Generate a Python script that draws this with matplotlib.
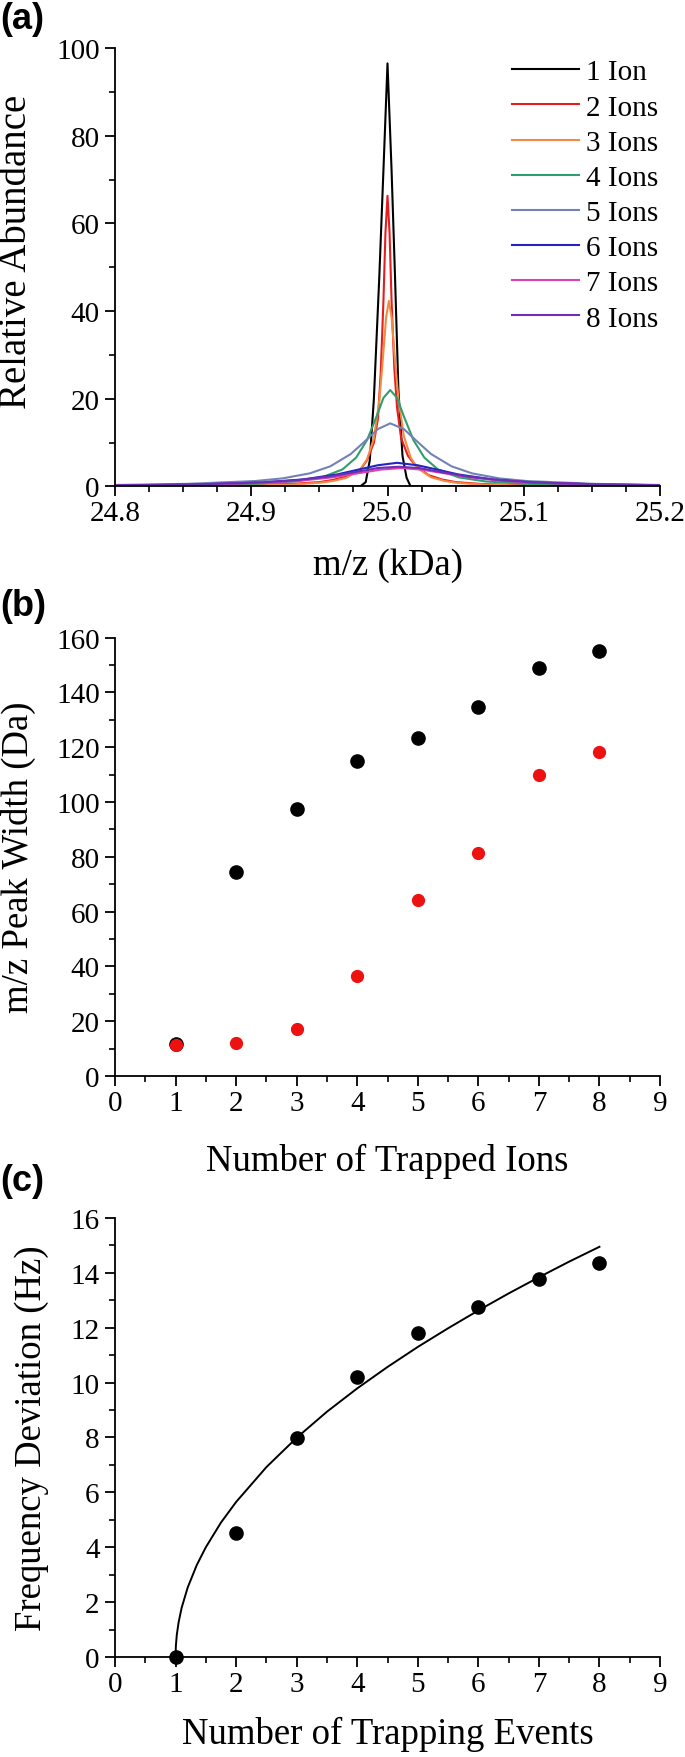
import matplotlib
matplotlib.use('Agg')
import matplotlib.pyplot as plt
from matplotlib.ticker import MultipleLocator

plt.rcParams['font.family'] = ['Liberation Serif', 'DejaVu Serif']

# ---- panel (a): peak profiles (m/z in kDa, abundance) ----
ion_labels = ['1 Ion', '2 Ions', '3 Ions', '4 Ions', '5 Ions', '6 Ions', '7 Ions', '8 Ions']
ion_colors = ['#000000', '#e81c1c', '#f08a44', '#2f9e6e', '#7282b6', '#2424c4', '#e040b4', '#6a30b4']

mz_1 = [24.80, 24.98, 24.984, 24.987, 24.990, 24.994, 24.997, 25.000, 25.003, 25.0055, 25.008, 25.011, 25.014, 25.017, 25.20]
ab_1 = [0, 0, 1, 6, 20, 48, 72, 96.5, 72, 48, 22, 7, 2, 0, 0]

mz_2 = [24.80, 24.85, 24.90, 24.93, 24.95, 24.96, 24.97, 24.98, 24.985, 24.99, 24.993, 24.995, 24.997, 24.9985, 25.000,
        25.0015, 25.003, 25.005, 25.007, 25.01, 25.015, 25.02, 25.03, 25.04, 25.05, 25.07, 25.10, 25.15, 25.20]
ab_2 = [0.1, 0.2, 0.35, 0.6, 1.0, 1.5, 2.3, 3.8, 6.0, 10.0, 15.5, 25.8, 42.2, 57.9, 66.3,
        57.9, 42.2, 27.0, 18.0, 11.0, 7.0, 5.0, 2.6, 1.6, 1.0, 0.55, 0.3, 0.15, 0.1]

mz_3 = [24.80, 24.85, 24.90, 24.93, 24.95, 24.96, 24.97, 24.98, 24.985, 24.99, 24.994, 24.997, 24.999, 25.001,
        25.003, 25.005, 25.008, 25.012, 25.017, 25.022, 25.032, 25.042, 25.052, 25.072, 25.10, 25.15, 25.20]
ab_3 = [0.06, 0.12, 0.25, 0.45, 0.85, 1.25, 2.0, 3.9, 6.2, 11.0, 19.6, 30.7, 38.6, 42.3,
        38.6, 30.7, 20.0, 11.5, 6.6, 4.2, 2.1, 1.25, 0.8, 0.42, 0.22, 0.1, 0.06]

mz_4 = [24.80, 24.852, 24.902, 24.932, 24.952, 24.967, 24.977, 24.985, 24.992, 24.997, 25.002,
        25.007, 25.012, 25.019, 25.027, 25.037, 25.052, 25.072, 25.102, 25.152, 25.20]
ab_4 = [0.16, 0.28, 0.6, 1.15, 2.1, 3.9, 6.6, 10.6, 16.0, 20.2, 22.0,
        20.2, 16.0, 10.6, 6.6, 3.9, 2.1, 1.15, 0.6, 0.28, 0.16]

mz_5 = [24.80, 24.853, 24.903, 24.923, 24.943, 24.958, 24.973, 24.983, 24.993, 25.002,
        25.012, 25.022, 25.032, 25.047, 25.062, 25.082, 25.102, 25.152, 25.20]
ab_5 = [0.35, 0.6, 1.25, 1.85, 3.0, 4.6, 7.4, 10.2, 13.1, 14.4,
        13.1, 10.2, 7.4, 4.6, 3.0, 1.85, 1.25, 0.6, 0.35]

mz_6 = [24.80, 24.858, 24.908, 24.938, 24.963, 24.978, 24.993, 25.007, 25.022, 25.037, 25.052, 25.077, 25.107, 25.157, 25.20]
ab_6 = [0.26, 0.45, 0.93, 1.61, 2.75, 3.81, 4.85, 5.4, 4.85, 3.81, 2.75, 1.61, 0.93, 0.45, 0.29]

mz_7 = [24.80, 24.86, 24.91, 24.935, 24.96, 24.98, 24.995, 25.01, 25.025, 25.04, 25.06, 25.085, 25.11, 25.16, 25.20]
ab_7 = [0.23, 0.42, 0.84, 1.29, 2.1, 3.09, 3.85, 4.2, 3.85, 3.09, 2.1, 1.29, 0.84, 0.42, 0.28]

mz_8 = [24.80, 24.858, 24.908, 24.933, 24.958, 24.978, 24.993, 25.008, 25.023, 25.038, 25.058, 25.083, 25.108, 25.158, 25.20]
ab_8 = [0.26, 0.46, 0.92, 1.42, 2.3, 3.38, 4.22, 4.5, 4.22, 3.38, 2.3, 1.42, 0.92, 0.46, 0.3]

mz_all = [mz_1, mz_2, mz_3, mz_4, mz_5, mz_6, mz_7, mz_8]
ab_all = [ab_1, ab_2, ab_3, ab_4, ab_5, ab_6, ab_7, ab_8]

# ---- panel (b): peak width vs number of trapped ions ----
n_ions = [1, 2, 3, 4, 5, 6, 7, 8]
width_black = [11.7, 74.5, 97.5, 115.1, 123.2, 134.5, 149.0, 155.0]
width_red = [11.4, 12.0, 17.3, 36.5, 64.2, 81.5, 109.9, 118.1]

# ---- panel (c): frequency deviation vs trapping events ----
n_events = [1, 2, 3, 4, 5, 6, 7, 8]
freq_dev = [0.0, 4.52, 7.99, 10.2, 11.81, 12.77, 13.79, 14.37]
fit_x = [1.0, 1.005, 1.02, 1.05, 1.1, 1.2, 1.35, 1.5, 1.75, 2.0, 2.5, 3.0, 3.5, 4.0, 4.5, 5.0, 5.5, 6.0, 6.5, 7.0, 7.5, 8.0]
fit_y = [0.0, 0.4, 0.8, 1.26, 1.79, 2.53, 3.35, 4.0, 4.9, 5.65, 6.92, 7.99, 8.94, 9.79, 10.57, 11.3, 11.98, 12.63, 13.25, 13.84, 14.41, 14.95]

tick_fs = 21
label_fs = 26.5

fig = plt.figure(figsize=(6.85, 17.58), dpi=100)
ax_a = fig.add_axes([0.1679, 0.7227, 0.7956, 0.2494])
ax_b = fig.add_axes([0.1679, 0.3874, 0.7956, 0.2494])
ax_c = fig.add_axes([0.1679, 0.0569, 0.7956, 0.2497])


def style_axis(ax):
    for s in ['top', 'right']:
        ax.spines[s].set_visible(False)
    for s in ['left', 'bottom']:
        ax.spines[s].set_linewidth(1.3)
    ax.tick_params(which='major', direction='out', length=7, width=1.3, labelsize=tick_fs, pad=3)
    ax.tick_params(which='minor', direction='out', length=4, width=1.2)
    ax.tick_params(axis='y', which='major', pad=4)


# (a)
for mz, ab, c, lab in zip(mz_all, ab_all, ion_colors, ion_labels):
    ax_a.plot(mz, ab, color=c, lw=1.5, label=lab)
ax_a.set_xlim(24.8, 25.2)
ax_a.set_ylim(0, 100)
ax_a.set_xticks([24.8, 24.9, 25.0, 25.1, 25.2])
ax_a.set_xticklabels(['24.8', '24.9', '25.0', '25.1', '25.2'])
ax_a.xaxis.set_minor_locator(MultipleLocator(0.025))
ax_a.yaxis.set_major_locator(MultipleLocator(20))
ax_a.yaxis.set_minor_locator(MultipleLocator(10))
style_axis(ax_a)
ax_a.set_xlabel('m/z (kDa)', fontsize=label_fs, va='top')
ax_a.set_ylabel('Relative Abundance', fontsize=28)
ax_a.xaxis.set_label_coords(0.5, -0.138)
ax_a.yaxis.set_label_coords(-0.147, 0.537)
ax_a.legend(loc='upper left', bbox_to_anchor=(0.728, 0.975), frameon=False, fontsize=21,
            handlelength=2.3, handletextpad=0.25, labelspacing=0.3, borderpad=0, borderaxespad=0)

# (b)
ax_b.plot(n_ions, width_black, 'o', color='black', ms=9.5, ls='none')
ax_b.plot(n_ions, width_red, 'o', color='#ee1111', ms=8.5, ls='none')
ax_b.set_xlim(0, 9)
ax_b.set_ylim(0, 160)
ax_b.xaxis.set_major_locator(MultipleLocator(1))
ax_b.xaxis.set_minor_locator(MultipleLocator(0.5))
ax_b.yaxis.set_major_locator(MultipleLocator(20))
ax_b.yaxis.set_minor_locator(MultipleLocator(10))
style_axis(ax_b)
ax_b.set_xlabel('Number of Trapped Ions', fontsize=label_fs, va='top')
ax_b.set_ylabel('m/z Peak Width (Da)', fontsize=label_fs)
ax_b.xaxis.set_label_coords(0.5, -0.152)
ax_b.yaxis.set_label_coords(-0.145, 0.5)

# (c)
ax_c.plot(fit_x, fit_y, color='black', lw=1.4)
ax_c.plot(n_events, freq_dev, 'o', color='black', ms=9.5, ls='none', clip_on=False)
ax_c.set_xlim(0, 9)
ax_c.set_ylim(0, 16)
ax_c.xaxis.set_major_locator(MultipleLocator(1))
ax_c.xaxis.set_minor_locator(MultipleLocator(0.5))
ax_c.yaxis.set_major_locator(MultipleLocator(2))
ax_c.yaxis.set_minor_locator(MultipleLocator(1))
style_axis(ax_c)
ax_c.set_xlabel('Number of Trapping Events', fontsize=label_fs, va='top')
ax_c.set_ylabel('Frequency Deviation (Hz)', fontsize=label_fs)
ax_c.xaxis.set_label_coords(0.5, -0.134)
ax_c.yaxis.set_label_coords(-0.122, 0.5)

# panel letters
for y, t in [(1 - 2 / 1758, '(a)'), (1 - 589 / 1758, '(b)'), (1 - 1164 / 1758, '(c)')]:
    fig.text(0.001, y, t, fontsize=26, fontweight='bold', family='Liberation Sans', va='top', ha='left')

fig.savefig('out.png', dpi=100)
